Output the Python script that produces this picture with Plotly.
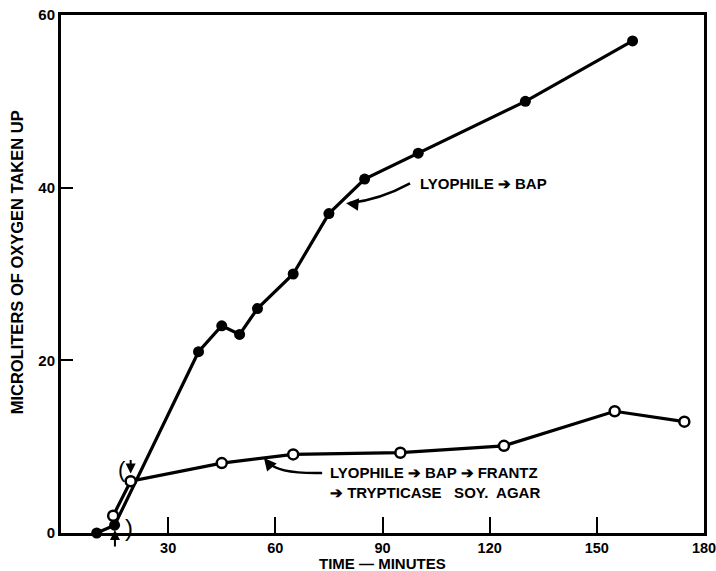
import plotly.graph_objects as go

# Data
bap_time = [10, 15, 38.5, 45, 50, 55, 65, 75, 85, 100, 130, 160]
bap_o2 = [0, 0.9, 21, 24, 23, 26, 30, 37, 41, 44, 50, 57]

tsa_time = [14.6, 19.5, 45, 65, 95, 124, 155, 174.5]
tsa_o2 = [2.0, 6.0, 8.1, 9.1, 9.3, 10.1, 14.1, 12.9]

x_ticks = [30, 60, 90, 120, 150, 180]
y_ticks = [0, 20, 40, 60]

FONT = "Liberation Sans"

fig = go.Figure()
fig.add_trace(go.Scatter(
    x=bap_time, y=bap_o2, mode="lines+markers",
    line=dict(color="black", width=3.2),
    marker=dict(color="black", size=11, symbol="circle"),
    cliponaxis=False, showlegend=False))
fig.add_trace(go.Scatter(
    x=tsa_time, y=tsa_o2, mode="lines+markers",
    line=dict(color="black", width=3.2),
    marker=dict(color="white", size=10, symbol="circle",
                line=dict(color="black", width=2.5)),
    cliponaxis=False, showlegend=False))

# curved arrow shafts
fig.add_shape(type="path", xref="x", yref="y",
              path="M 97.7,40.5 Q 89.3,38.6 80.6,38.2",
              line=dict(color="black", width=2.5))
fig.add_shape(type="path", xref="x", yref="y",
              path="M 73.1,6.95 Q 60.7,6.83 57.95,8.22",
              line=dict(color="black", width=2.5))

ann = []
ann.append(dict(x=99.9, y=40.5, xref="x", yref="y", text="LYOPHILE ➔ BAP",
                showarrow=False, xanchor="left", yanchor="middle",
                font=dict(family=FONT, size=15, color="black", weight="bold")))
ann.append(dict(x=74.7, y=5.9, xref="x", yref="y",
                text="LYOPHILE ➔ BAP ➔ FRANTZ<br>➔ TRYPTICASE   SOY.  AGAR",
                showarrow=False, xanchor="left", yanchor="middle", align="left",
                font=dict(family=FONT, size=15, color="black", weight="bold")))
# arrow heads
ann.append(dict(x=79.8, y=38.2, xref="x", yref="y", text="", showarrow=True,
                ax=10, ay=1, arrowhead=2, arrowsize=1, arrowwidth=2.5, arrowcolor="black"))
ann.append(dict(x=56.8, y=8.69, xref="x", yref="y", text="", showarrow=True,
                ax=5, ay=6, arrowhead=2, arrowsize=1, arrowwidth=2.5, arrowcolor="black"))
# small arrows near start
ann.append(dict(x=19.5, y=6.9, xref="x", yref="y", text="", showarrow=True,
                ax=0, ay=-15, arrowhead=2, arrowsize=1, arrowwidth=2, arrowcolor="black"))
ann.append(dict(x=15.1, y=0.35, xref="x", yref="y", text="", showarrow=True,
                ax=0, ay=18, arrowhead=2, arrowsize=1, arrowwidth=2, arrowcolor="black"))
ann.append(dict(x=17.0, y=7.4, xref="x", yref="y", text="(", showarrow=False,
                font=dict(family=FONT, size=22, color="black")))
ann.append(dict(x=19.0, y=0.6, xref="x", yref="y", text=")", showarrow=False,
                font=dict(family=FONT, size=24, color="black")))
# axis titles
ann.append(dict(x=0.5, y=-0.058, xref="paper", yref="paper", text="TIME — MINUTES",
                showarrow=False, xanchor="center", yanchor="middle",
                font=dict(family=FONT, size=15, color="black", weight="bold")))
ann.append(dict(x=-0.068, y=0.523, xref="paper", yref="paper",
                text="MICROLITERS OF OXYGEN TAKEN UP", textangle=-90,
                showarrow=False, xanchor="center", yanchor="middle",
                font=dict(family=FONT, size=16.5, color="black", weight="bold")))

fig.update_layout(
    width=716, height=571,
    margin=dict(l=61, r=12, t=15, b=38, autoexpand=False),
    paper_bgcolor="white", plot_bgcolor="white",
    font=dict(family=FONT, color="black"),
    annotations=ann,
    xaxis=dict(
        range=[0, 180], tickvals=x_ticks, ticktext=[str(v) for v in x_ticks],
        ticks="inside", ticklen=16, tickwidth=2, tickcolor="black",
        showline=True, linecolor="black", linewidth=3, mirror=True,
        showgrid=False, zeroline=False, automargin=False,
        ticklabeloverflow="allow",
        tickfont=dict(family=FONT, size=14.5, weight="bold"),
    ),
    yaxis=dict(
        range=[0, 60], tickvals=y_ticks, ticktext=[str(v) for v in y_ticks],
        ticks="inside", ticklen=12, tickwidth=2, tickcolor="black",
        showline=True, linecolor="black", linewidth=3, mirror=True,
        showgrid=False, zeroline=False, automargin=False,
        ticklabeloverflow="allow",
        tickfont=dict(family=FONT, size=15, weight="bold"),
    ),
)

fig.write_html("out.html")
